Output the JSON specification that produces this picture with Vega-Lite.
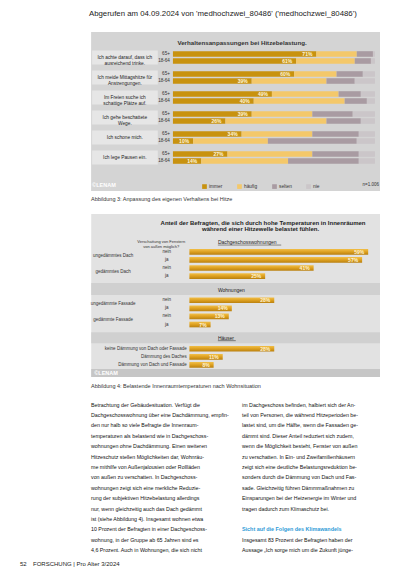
{
  "$schema": "https://vega.github.io/schema/vega-lite/v6.json",
  "background": "white",
  "padding": {"left": 20, "top": 10, "right": 33, "bottom": 5},
  "bounds": "flush",
  "title": {"text": "Abgerufen am 04.09.2024 von 'medhochzwei_80486' ('medhochzwei_80486')", "fontSize": 7.8, "fontWeight": "normal", "color": "#1a1a1a", "anchor": "start", "dx": 69, "offset": 14},
  "spacing": 23,
  "config": {"view": {"stroke": null, "fill": null}, "font": "Liberation Sans", "title": {"font": "Liberation Sans"}},
  "vconcat": [
    {
      "width": 360,
      "height": 159,
      "title": {"text": "Abbildung 3: Anpassung des eigenen Verhaltens bei Hitze", "orient": "bottom", "anchor": "start", "dx": 71, "fontSize": 5.5, "fontWeight": "normal", "color": "#333333", "offset": 6},
      "data": {"values": [
        {"stmt": "Ich achte darauf, dass ich\nausreichend trinke.", "age": "65+", "cat": "immer", "v": 71},
        {"stmt": "Ich achte darauf, dass ich\nausreichend trinke.", "age": "65+", "cat": "häufig", "v": 20},
        {"stmt": "Ich achte darauf, dass ich\nausreichend trinke.", "age": "65+", "cat": "selten", "v": 8},
        {"stmt": "Ich achte darauf, dass ich\nausreichend trinke.", "age": "65+", "cat": "nie", "v": 1},
        {"stmt": "Ich achte darauf, dass ich\nausreichend trinke.", "age": "18-64", "cat": "immer", "v": 61},
        {"stmt": "Ich achte darauf, dass ich\nausreichend trinke.", "age": "18-64", "cat": "häufig", "v": 29},
        {"stmt": "Ich achte darauf, dass ich\nausreichend trinke.", "age": "18-64", "cat": "selten", "v": 8},
        {"stmt": "Ich achte darauf, dass ich\nausreichend trinke.", "age": "18-64", "cat": "nie", "v": 2},
        {"stmt": "Ich meide Mittagshitze für\nAnstrengungen.", "age": "65+", "cat": "immer", "v": 60},
        {"stmt": "Ich meide Mittagshitze für\nAnstrengungen.", "age": "65+", "cat": "häufig", "v": 21},
        {"stmt": "Ich meide Mittagshitze für\nAnstrengungen.", "age": "65+", "cat": "selten", "v": 13},
        {"stmt": "Ich meide Mittagshitze für\nAnstrengungen.", "age": "65+", "cat": "nie", "v": 6},
        {"stmt": "Ich meide Mittagshitze für\nAnstrengungen.", "age": "18-64", "cat": "immer", "v": 39},
        {"stmt": "Ich meide Mittagshitze für\nAnstrengungen.", "age": "18-64", "cat": "häufig", "v": 37},
        {"stmt": "Ich meide Mittagshitze für\nAnstrengungen.", "age": "18-64", "cat": "selten", "v": 14},
        {"stmt": "Ich meide Mittagshitze für\nAnstrengungen.", "age": "18-64", "cat": "nie", "v": 10},
        {"stmt": "Im Freien suche ich\nschattige Plätze auf.", "age": "65+", "cat": "immer", "v": 49},
        {"stmt": "Im Freien suche ich\nschattige Plätze auf.", "age": "65+", "cat": "häufig", "v": 33},
        {"stmt": "Im Freien suche ich\nschattige Plätze auf.", "age": "65+", "cat": "selten", "v": 11},
        {"stmt": "Im Freien suche ich\nschattige Plätze auf.", "age": "65+", "cat": "nie", "v": 7},
        {"stmt": "Im Freien suche ich\nschattige Plätze auf.", "age": "18-64", "cat": "immer", "v": 40},
        {"stmt": "Im Freien suche ich\nschattige Plätze auf.", "age": "18-64", "cat": "häufig", "v": 45},
        {"stmt": "Im Freien suche ich\nschattige Plätze auf.", "age": "18-64", "cat": "selten", "v": 11},
        {"stmt": "Im Freien suche ich\nschattige Plätze auf.", "age": "18-64", "cat": "nie", "v": 4},
        {"stmt": "Ich gehe beschattete\nWege.", "age": "65+", "cat": "immer", "v": 39},
        {"stmt": "Ich gehe beschattete\nWege.", "age": "65+", "cat": "häufig", "v": 30},
        {"stmt": "Ich gehe beschattete\nWege.", "age": "65+", "cat": "selten", "v": 20},
        {"stmt": "Ich gehe beschattete\nWege.", "age": "65+", "cat": "nie", "v": 11},
        {"stmt": "Ich gehe beschattete\nWege.", "age": "18-64", "cat": "immer", "v": 26},
        {"stmt": "Ich gehe beschattete\nWege.", "age": "18-64", "cat": "häufig", "v": 50},
        {"stmt": "Ich gehe beschattete\nWege.", "age": "18-64", "cat": "selten", "v": 17},
        {"stmt": "Ich gehe beschattete\nWege.", "age": "18-64", "cat": "nie", "v": 7},
        {"stmt": "Ich schone mich.", "age": "65+", "cat": "immer", "v": 34},
        {"stmt": "Ich schone mich.", "age": "65+", "cat": "häufig", "v": 35},
        {"stmt": "Ich schone mich.", "age": "65+", "cat": "selten", "v": 23},
        {"stmt": "Ich schone mich.", "age": "65+", "cat": "nie", "v": 8},
        {"stmt": "Ich schone mich.", "age": "18-64", "cat": "immer", "v": 10},
        {"stmt": "Ich schone mich.", "age": "18-64", "cat": "häufig", "v": 37},
        {"stmt": "Ich schone mich.", "age": "18-64", "cat": "selten", "v": 44},
        {"stmt": "Ich schone mich.", "age": "18-64", "cat": "nie", "v": 9},
        {"stmt": "Ich lege Pausen ein.", "age": "65+", "cat": "immer", "v": 27},
        {"stmt": "Ich lege Pausen ein.", "age": "65+", "cat": "häufig", "v": 42},
        {"stmt": "Ich lege Pausen ein.", "age": "65+", "cat": "selten", "v": 23},
        {"stmt": "Ich lege Pausen ein.", "age": "65+", "cat": "nie", "v": 8},
        {"stmt": "Ich lege Pausen ein.", "age": "18-64", "cat": "immer", "v": 14},
        {"stmt": "Ich lege Pausen ein.", "age": "18-64", "cat": "häufig", "v": 43},
        {"stmt": "Ich lege Pausen ein.", "age": "18-64", "cat": "selten", "v": 35},
        {"stmt": "Ich lege Pausen ein.", "age": "18-64", "cat": "nie", "v": 8}
      ]},
      "layer": [
        {
          "data": {"values": [{}]},
          "mark": {"type": "rect", "fill": "#d4d4d4"},
          "encoding": {
            "x": {"datum": -40.5, "type": "quantitative",
                  "scale": {"domain": [-75.7, 102.5], "nice": false, "zero": false},
                  "axis": {"values": [0, 10, 20, 30, 40, 50, 60, 70, 80, 90, 100], "orient": "bottom", "offset": -19, "domain": false, "ticks": false, "grid": false, "labelFontSize": 4.6, "labelColor": "#333333", "labelPadding": 1, "title": null}},
            "x2": {"datum": 102.5}
          }
        },
        {
          "transform": [{"filter": "datum.cat === 'immer' && datum.age === '65+'"}],
          "mark": {"type": "rect", "fill": "#e6e6e6"},
          "encoding": {
            "y": {"field": "stmt", "type": "nominal", "axis": null,
                  "scale": {"domain": ["T", "Ich achte darauf, dass ich\nausreichend trinke.", "Ich meide Mittagshitze für\nAnstrengungen.", "Im Freien suche ich\nschattige Plätze auf.", "Ich gehe beschattete\nWege.", "Ich schone mich.", "Ich lege Pausen ein.", "B"],
                            "range": [-4.5, 155.5], "paddingInner": 0.3, "paddingOuter": 0.15}},
            "x": {"datum": -40},
            "x2": {"datum": -7.5}
          }
        },
        {
          "transform": [{"calculate": "indexof(['immer', 'häufig', 'selten', 'nie'], datum.cat)", "as": "ord"}],
          "mark": {"type": "bar"},
          "encoding": {
            "y": {"field": "stmt", "type": "nominal"},
            "yOffset": {"field": "age", "type": "nominal", "scale": {"domain": ["65+", "18-64"], "paddingInner": 0.2, "paddingOuter": 0.1}},
            "x": {"field": "v", "type": "quantitative", "stack": "zero"},
            "order": {"field": "ord", "type": "quantitative", "sort": "ascending"},
            "color": {"field": "cat", "type": "nominal", "sort": ["immer", "häufig", "selten", "nie"],
                      "scale": {"domain": ["immer", "häufig", "selten", "nie"], "range": ["#c8920f", "#f4c86a", "#a99ba2", "#cbc6c9"]},
                      "legend": {"orient": "none", "legendX": 182, "legendY": 152, "direction": "horizontal", "title": null, "symbolType": "square", "symbolSize": 22, "symbolStrokeWidth": 0, "labelFontSize": 4.8, "labelColor": "#333333", "columnPadding": 14, "labelOffset": 2}}
          }
        },
        {
          "transform": [{"filter": "datum.cat === 'immer'"}, {"calculate": "datum.v + '%'", "as": "lbl"}],
          "mark": {"type": "text", "align": "right", "baseline": "middle", "dx": -4, "fontSize": 5, "fontWeight": "bold", "color": "#fff6dc"},
          "encoding": {
            "y": {"field": "stmt", "type": "nominal"},
            "yOffset": {"field": "age", "type": "nominal"},
            "x": {"field": "v", "type": "quantitative"},
            "text": {"field": "lbl"}
          }
        },
        {
          "transform": [{"filter": "datum.cat === 'immer'"}],
          "mark": {"type": "text", "align": "right", "baseline": "middle", "fontSize": 4.6, "color": "#333333"},
          "encoding": {
            "y": {"field": "stmt", "type": "nominal"},
            "yOffset": {"field": "age", "type": "nominal"},
            "x": {"datum": -1.5},
            "text": {"field": "age"}
          }
        },
        {
          "transform": [{"filter": "datum.cat === 'immer' && datum.age === '65+'"}],
          "mark": {"type": "text", "align": "center", "baseline": "middle", "fontSize": 4.8, "lineHeight": 6, "lineBreak": "\n", "color": "#222222"},
          "encoding": {
            "y": {"field": "stmt", "type": "nominal"},
            "x": {"datum": -23.8},
            "text": {"field": "stmt"}
          }
        },
        {
          "data": {"values": [{}]},
          "mark": {"type": "text", "text": "Verhaltensanpassungen bei Hitzebelastung.", "align": "center", "baseline": "middle", "fontSize": 6.2, "fontWeight": "bold", "color": "#333333", "dy": 5.5},
          "encoding": {"x": {"datum": 34.2}, "y": {"datum": "T", "type": "nominal"}}
        },
        {
          "data": {"values": [{}]},
          "mark": {"type": "text", "text": "©LENAM", "align": "left", "baseline": "middle", "fontSize": 5.5, "fontWeight": "bold", "color": "#ffffff", "dy": 7.5},
          "encoding": {"x": {"datum": -40}, "y": {"datum": "B", "type": "nominal"}}
        },
        {
          "data": {"values": [{}]},
          "mark": {"type": "text", "text": "n=1.006", "align": "right", "baseline": "middle", "fontSize": 4.5, "color": "#333333", "dy": 7.5},
          "encoding": {"x": {"datum": 102}, "y": {"datum": "B", "type": "nominal"}}
        }
      ]
    },
    {
      "width": 360,
      "height": 163,
      "title": {"text": "Abbildung 4: Belastende Innenraumtemperaturen nach Wohnsituation", "orient": "bottom", "anchor": "start", "dx": 71, "fontSize": 5.5, "fontWeight": "normal", "color": "#333333", "offset": 7},
      "data": {"values": [
        {"row": "ungedämmtes Dach|nein", "grp": "ungedämmtes Dach", "shade": "nein", "v": 59},
        {"row": "ungedämmtes Dach|ja", "grp": "ungedämmtes Dach", "shade": "ja", "v": 57},
        {"row": "gedämmtes Dach|nein", "grp": "gedämmtes Dach", "shade": "nein", "v": 41},
        {"row": "gedämmtes Dach|ja", "grp": "gedämmtes Dach", "shade": "ja", "v": 25},
        {"row": "ungedämmte Fassade|nein", "grp": "ungedämmte Fassade", "shade": "nein", "v": 28},
        {"row": "ungedämmte Fassade|ja", "grp": "ungedämmte Fassade", "shade": "ja", "v": 14},
        {"row": "gedämmte Fassade|nein", "grp": "gedämmte Fassade", "shade": "nein", "v": 13},
        {"row": "gedämmte Fassade|ja", "grp": "gedämmte Fassade", "shade": "ja", "v": 7},
        {"row": "keine Dämmung von Dach oder Fassade", "grp": "keine Dämmung von Dach oder Fassade", "shade": null, "v": 28},
        {"row": "Dämmung des Daches", "grp": "Dämmung des Daches", "shade": null, "v": 11},
        {"row": "Dämmung von Dach und Fassade", "grp": "Dämmung von Dach und Fassade", "shade": null, "v": 8}
      ]},
      "layer": [
        {
          "data": {"values": [{}]},
          "mark": {"type": "rect", "fill": "#e2e2e2"},
          "encoding": {
            "x": {"datum": -32.4, "type": "quantitative", "scale": {"domain": [-55.9, 62.9], "nice": false, "zero": false}, "axis": null},
            "x2": {"datum": 62.9}
          }
        },
        {
          "data": {"values": [{}]},
          "mark": {"type": "rect", "fill": "#d0d0d0"},
          "encoding": {
            "x": {"datum": -32.4},
            "x2": {"datum": 62.9},
            "y": {"datum": "g1", "type": "nominal", "bandPosition": 0.36, "axis": null,
                  "scale": {"domain": ["h1", "h2", "h3", "h4", "ungedämmtes Dach|nein", "ungedämmtes Dach|ja", "gedämmtes Dach|nein", "gedämmtes Dach|ja", "g1", "g2", "ungedämmte Fassade|nein", "ungedämmte Fassade|ja", "gedämmte Fassade|nein", "gedämmte Fassade|ja", "g3", "g4", "keine Dämmung von Dach oder Fassade", "Dämmung des Daches", "Dämmung von Dach und Fassade", "f"],
                            "range": [1.5, 163], "paddingInner": 0, "paddingOuter": 0}},
            "y2": {"datum": "g2", "bandPosition": 0.85}
          }
        },
        {
          "data": {"values": [{}]},
          "mark": {"type": "rect", "fill": "#d0d0d0"},
          "encoding": {
            "x": {"datum": -32.4}, "x2": {"datum": 62.9},
            "y": {"datum": "g3", "type": "nominal", "bandPosition": 0.46},
            "y2": {"datum": "g4", "bandPosition": 0.83}
          }
        },
        {
          "data": {"values": [{}]},
          "mark": {"type": "rect", "fill": "#c6c6c6"},
          "encoding": {
            "x": {"datum": -32.4}, "x2": {"datum": 62.9},
            "y": {"datum": "f", "type": "nominal"}
          }
        },
        {
          "mark": {"type": "bar", "height": {"band": 0.7},
                   "color": {"gradient": "linear", "x1": 0, "x2": 0, "y1": 0, "y2": 1,
                             "stops": [{"offset": 0, "color": "#f2bf48"}, {"offset": 0.5, "color": "#dda020"}, {"offset": 1, "color": "#b98010"}]}},
          "encoding": {
            "y": {"field": "row", "type": "nominal"},
            "x": {"field": "v", "type": "quantitative"}
          }
        },
        {
          "transform": [{"calculate": "datum.v + '%'", "as": "lbl"}],
          "mark": {"type": "text", "align": "right", "baseline": "middle", "dx": -4, "fontSize": 5, "fontWeight": "bold", "color": "#fff4d6"},
          "encoding": {
            "y": {"field": "row", "type": "nominal"},
            "x": {"field": "v", "type": "quantitative"},
            "text": {"field": "lbl"}
          }
        },
        {
          "transform": [{"filter": "datum.shade === 'nein'"}],
          "mark": {"type": "text", "align": "center", "baseline": "middle", "fontSize": 4.5, "color": "#333333"},
          "encoding": {
            "y": {"field": "row", "type": "nominal", "bandPosition": 1},
            "x": {"datum": -25.2},
            "text": {"field": "grp"}
          }
        },
        {
          "transform": [{"filter": "datum.shade != null"}],
          "mark": {"type": "text", "align": "center", "baseline": "middle", "fontSize": 4.5, "color": "#333333"},
          "encoding": {
            "y": {"field": "row", "type": "nominal"},
            "x": {"datum": -7.5},
            "text": {"field": "shade"}
          }
        },
        {
          "transform": [{"filter": "datum.shade == null"}],
          "mark": {"type": "text", "align": "right", "baseline": "middle", "fontSize": 4.5, "color": "#333333"},
          "encoding": {
            "y": {"field": "row", "type": "nominal"},
            "x": {"datum": -0.9},
            "text": {"field": "grp"}
          }
        },
        {
          "data": {"values": [{}]},
          "mark": {"type": "text", "text": "Anteil der Befragten, die sich durch hohe Temperaturen in Innenräumen", "align": "center", "baseline": "middle", "fontSize": 6, "fontWeight": "bold", "color": "#222222"},
          "encoding": {"x": {"datum": 24.3}, "y": {"datum": "h1", "type": "nominal", "bandPosition": 0.97}}
        },
        {
          "data": {"values": [{}]},
          "mark": {"type": "text", "text": "während einer Hitzewelle belastet fühlen.", "align": "center", "baseline": "middle", "fontSize": 6, "fontWeight": "bold", "color": "#222222"},
          "encoding": {"x": {"datum": 23.5}, "y": {"datum": "h2", "type": "nominal", "bandPosition": 0.73}}
        },
        {
          "data": {"values": [{}]},
          "mark": {"type": "text", "text": "Verschattung von Fenstern\nvon außen möglich?", "lineBreak": "\n", "lineHeight": 5, "align": "center", "baseline": "middle", "fontSize": 4, "color": "#333333"},
          "encoding": {"x": {"datum": -9.3}, "y": {"datum": "h4", "type": "nominal", "bandPosition": 0.22}}
        },
        {
          "data": {"values": [{}]},
          "mark": {"type": "text", "text": "Dachgeschosswohnungen", "align": "left", "baseline": "middle", "fontSize": 5, "color": "#222222"},
          "encoding": {"x": {"datum": 9.4}, "y": {"datum": "h4", "type": "nominal", "bandPosition": 0.32}}
        },
        {
          "data": {"values": [{}]},
          "mark": {"type": "rule", "color": "#222222", "strokeWidth": 0.5},
          "encoding": {"x": {"datum": 9.4}, "x2": {"datum": 30.3}, "y": {"datum": "h4", "type": "nominal", "bandPosition": 0.66}}
        },
        {
          "data": {"values": [{}]},
          "mark": {"type": "text", "text": "Wohnungen", "align": "left", "baseline": "middle", "fontSize": 5, "color": "#222222"},
          "encoding": {"x": {"datum": 9.4}, "y": {"datum": "g2", "type": "nominal", "bandPosition": 0.2}}
        },
        {
          "data": {"values": [{}]},
          "mark": {"type": "text", "text": "Häuser", "align": "left", "baseline": "middle", "fontSize": 5, "color": "#222222"},
          "encoding": {"x": {"datum": 9.4}, "y": {"datum": "g4", "type": "nominal", "bandPosition": 0.17}}
        },
        {
          "data": {"values": [{}]},
          "mark": {"type": "rule", "color": "#222222", "strokeWidth": 0.5},
          "encoding": {"x": {"datum": 9.4}, "x2": {"datum": 15.3}, "y": {"datum": "g4", "type": "nominal", "bandPosition": 0.5}}
        },
        {
          "data": {"values": [{}]},
          "mark": {"type": "text", "text": "©LENAM", "align": "left", "baseline": "middle", "fontSize": 5.5, "fontWeight": "bold", "color": "#ffffff"},
          "encoding": {"x": {"datum": -31.4}, "y": {"datum": "f", "type": "nominal"}}
        }
      ]
    },
    {
      "width": 360,
      "height": 166.4,
      "data": {"values": [
        {"col": "left", "line": 1, "kind": "body", "text": "Betrachtung der Gebäudesituation. Verfügt die"},
        {"col": "left", "line": 2, "kind": "body", "text": "Dachgeschosswohnung über eine Dachdämmung, empfin-"},
        {"col": "left", "line": 3, "kind": "body", "text": "den nur halb so viele Befragte die Innenraum-"},
        {"col": "left", "line": 4, "kind": "body", "text": "temperaturen als belastend wie in Dachgeschoss-"},
        {"col": "left", "line": 5, "kind": "body", "text": "wohnungen ohne Dachdämmung. Einen weiteren"},
        {"col": "left", "line": 6, "kind": "body", "text": "Hitzeschutz stellen Möglichkeiten dar, Wohnräu-"},
        {"col": "left", "line": 7, "kind": "body", "text": "me mithilfe von Außenjalousien oder Rollläden"},
        {"col": "left", "line": 8, "kind": "body", "text": "von außen zu verschatten. In Dachgeschoss-"},
        {"col": "left", "line": 9, "kind": "body", "text": "wohnungen zeigt sich eine merkliche Reduzie-"},
        {"col": "left", "line": 10, "kind": "body", "text": "rung der subjektiven Hitzebelastung allerdings"},
        {"col": "left", "line": 11, "kind": "body", "text": "nur, wenn gleichzeitig auch das Dach gedämmt"},
        {"col": "left", "line": 12, "kind": "body", "text": "ist (siehe Abbildung 4). Insgesamt wohnen etwa"},
        {"col": "left", "line": 13, "kind": "body", "text": "10 Prozent der Befragten in einer Dachgeschoss-"},
        {"col": "left", "line": 14, "kind": "body", "text": "wohnung, in der Gruppe ab 65 Jahren sind es"},
        {"col": "left", "line": 15, "kind": "body", "text": "4,6 Prozent. Auch in Wohnungen, die sich nicht"},
        {"col": "right", "line": 1, "kind": "body", "text": "im Dachgeschoss befinden, halbiert sich der An-"},
        {"col": "right", "line": 2, "kind": "body", "text": "teil von Personen, die während Hitzeperioden be-"},
        {"col": "right", "line": 3, "kind": "body", "text": "lastet sind, um die Hälfte, wenn die Fassaden ge-"},
        {"col": "right", "line": 4, "kind": "body", "text": "dämmt sind. Dieser Anteil reduziert sich zudem,"},
        {"col": "right", "line": 5, "kind": "body", "text": "wenn die Möglichkeit besteht, Fenster von außen"},
        {"col": "right", "line": 6, "kind": "body", "text": "zu verschatten. In Ein- und Zweifamilienhäusern"},
        {"col": "right", "line": 7, "kind": "body", "text": "zeigt sich eine deutliche Belastungsreduktion be-"},
        {"col": "right", "line": 8, "kind": "body", "text": "sonders durch die Dämmung von Dach und Fas-"},
        {"col": "right", "line": 9, "kind": "body", "text": "sade. Gleichzeitig führen Dämmmaßnahmen zu"},
        {"col": "right", "line": 10, "kind": "body", "text": "Einsparungen bei der Heizenergie im Winter und"},
        {"col": "right", "line": 11, "kind": "body", "text": "tragen dadurch zum Klimaschutz bei."},
        {"col": "right", "line": 13, "kind": "heading", "text": "Sicht auf die Folgen des Klimawandels"},
        {"col": "right", "line": 14, "kind": "body", "text": "Insgesamt 83 Prozent der Befragten haben der"},
        {"col": "right", "line": 15, "kind": "body", "text": "Aussage „Ich sorge mich um die Zukunft jünge-"}
      ]},
      "layer": [
        {
          "transform": [{"filter": "datum.kind === 'body' && datum.col === 'left'"}],
          "mark": {"type": "text", "align": "left", "baseline": "middle", "fontSize": 5.3, "color": "#111111"},
          "encoding": {
            "x": {"datum": 0, "type": "quantitative", "axis": null, "scale": {"domain": [-71, 289], "nice": false, "zero": false}},
            "y": {"field": "line", "type": "ordinal", "axis": null, "scale": {"domain": [1, 2, 3, 4, 5, 6, 7, 8, 9, 10, 11, 12, 13, 14, 15, 16], "range": [-0.7, 165.7], "paddingInner": 0, "paddingOuter": 0}},
            "text": {"field": "text"}
          }
        },
        {
          "transform": [{"filter": "datum.kind === 'body' && datum.col === 'right'"}],
          "mark": {"type": "text", "align": "left", "baseline": "middle", "fontSize": 5.3, "color": "#111111"},
          "encoding": {
            "x": {"datum": 151},
            "y": {"field": "line", "type": "ordinal"},
            "text": {"field": "text"}
          }
        },
        {
          "transform": [{"filter": "datum.kind === 'heading'"}],
          "mark": {"type": "text", "align": "left", "baseline": "middle", "fontSize": 5.4, "fontWeight": "bold", "color": "#2f9bd7"},
          "encoding": {
            "x": {"datum": 151},
            "y": {"field": "line", "type": "ordinal"},
            "text": {"field": "text"}
          }
        },
        {
          "data": {"values": [{}]},
          "mark": {"type": "text", "text": "52", "align": "left", "baseline": "middle", "fontSize": 6, "color": "#222222", "dy": 3.5},
          "encoding": {"x": {"datum": -71}, "y": {"datum": 16, "type": "ordinal"}}
        },
        {
          "data": {"values": [{}]},
          "mark": {"type": "text", "text": "FORSCHUNG | Pro Alter 3/2024", "align": "left", "baseline": "middle", "fontSize": 6, "color": "#222222", "dy": 3.5},
          "encoding": {"x": {"datum": -58}, "y": {"datum": 16, "type": "ordinal"}}
        }
      ]
    }
  ]
}
